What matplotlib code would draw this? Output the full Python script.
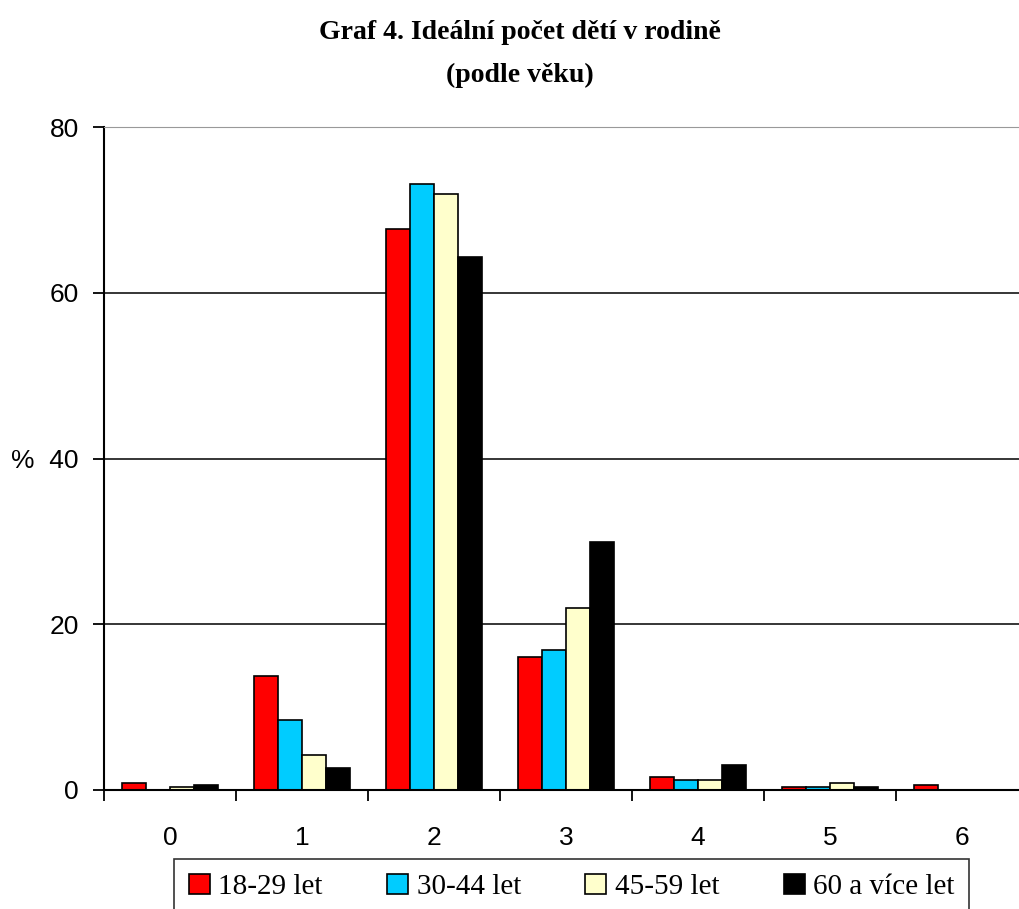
import numpy as np
import matplotlib.pyplot as plt

categories = ['0', '1', '2', '3', '4', '5', '6']
series = ['18-29 let', '30-44 let', '45-59 let', '60 a více let']
v_18_29 = [0.8, 13.8, 67.7, 16.0, 1.5, 0.3, 0.6]
v_30_44 = [0.0, 8.5, 73.2, 16.9, 1.2, 0.3, 0.0]
v_45_59 = [0.3, 4.2, 72.0, 22.0, 1.25, 0.8, 0.0]
v_60 = [0.6, 2.7, 64.3, 29.9, 3.0, 0.3, 0.0]
colors = ['#ff0000', '#00ccff', '#ffffcc', '#000000']

fig = plt.figure(figsize=(10.19, 9.09), dpi=100)
ax = fig.add_axes([0.102, 0.131, 0.907, 0.729])

x = np.arange(len(categories))
w = 0.182
for i, (vals, name) in enumerate(zip([v_18_29, v_30_44, v_45_59, v_60], series)):
    ax.bar(x + (i - 1.5) * w, vals, w, color=colors[i], edgecolor='black',
           linewidth=1.2, label=name, zorder=3)

ax.set_xlim(-0.5, 6.5)
ax.set_ylim(0, 80)
ax.set_yticks([0, 20, 40, 60, 80])
ax.set_yticklabels(['0', '20', '%  40', '60', '80'], fontfamily='Liberation Sans', fontsize=19)
ax.set_xticks(x)
ax.set_xticklabels(categories, fontfamily='Liberation Sans', fontsize=19)
ax.set_xticks(np.arange(-0.5, 7, 1), minor=True)
ax.tick_params(axis='x', which='major', length=0, pad=26)
ax.tick_params(axis='x', which='minor', length=8, width=1.3, direction='out')
ax.tick_params(axis='y', length=8, width=1.3, direction='out', pad=10)

for yv in [20, 40, 60]:
    ax.axhline(yv, color='black', linewidth=1.1, zorder=1)
ax.spines['top'].set_color('#999999')
ax.spines['right'].set_visible(False)
ax.spines['left'].set_linewidth(1.5)
ax.spines['bottom'].set_linewidth(1.5)
ax.spines['bottom'].set_zorder(4)

fig.text(0.51, 0.964, 'Graf 4. Ideální počet dětí v rodině', ha='center', va='center',
         fontfamily='Liberation Serif', fontweight='bold', fontsize=20)
fig.text(0.51, 0.917, '(podle věku)', ha='center', va='center',
         fontfamily='Liberation Serif', fontweight='bold', fontsize=20)

leg = fig.legend(loc='upper center', bbox_to_anchor=(0.561, 0.055), ncol=4,
                 prop={'family': 'Liberation Serif', 'size': 21},
                 frameon=True, fancybox=False, edgecolor='black',
                 handlelength=0.72, handleheight=0.72, handletextpad=0.3,
                 columnspacing=2.2, borderpad=0.5, borderaxespad=0)
leg.get_frame().set_linewidth(1.2)

fig.savefig('out.png', dpi=100)
